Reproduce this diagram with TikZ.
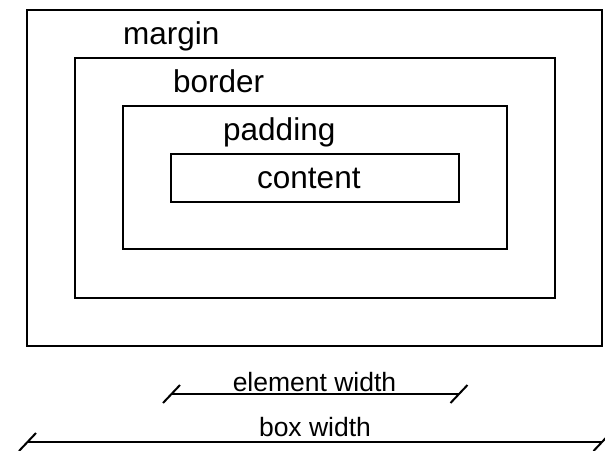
\documentclass[tikz,border=0pt]{standalone}
\usepackage{fontspec}
\setmainfont{Liberation Sans}
\usetikzlibrary{calc}
\tikzset{
  boxline/.style={draw=black, line width=1.5pt},
  dimline/.style={draw=black, line width=2pt},
  bigtext/.style={inner sep=0pt, anchor=base west, font=\fontsize{31.5}{36}\selectfont},
  smalltext/.style={inner sep=0pt, anchor=base, font=\fontsize{26.5}{30}\selectfont},
}
\begin{document}
\begin{tikzpicture}[x=1pt,y=-1pt]
\useasboundingbox (0,0) rectangle (605,450);
\fill[white] (0,0) rectangle (605,450);
% boxes
\coordinate (m1) at (27,10);   \coordinate (m2) at (602,346);
\coordinate (b1) at (75,58);   \coordinate (b2) at (555,298);
\coordinate (p1) at (123,106); \coordinate (p2) at (507,249);
\coordinate (c1) at (171,154); \coordinate (c2) at (459,202);
\draw[boxline] (m1) rectangle (m2);
\draw[boxline] (b1) rectangle (b2);
\draw[boxline] (p1) rectangle (p2);
\draw[boxline] (c1) rectangle (c2);
% labels
\node[bigtext] (lmargin) at (123,44) {margin};
\node[bigtext] (lborder) at (173,92) {border};
\node[bigtext] (lpadding) at (223,140) {padding};
\node[bigtext] (lcontent) at (257,188) {content};
% dimension lines
\coordinate (e1) at (171.5,394); \coordinate (e2) at (459,394);
\coordinate (w1) at (27.5,442);  \coordinate (w2) at (602,442);
\draw[dimline] (e1) -- (e2);
\draw[dimline] ($(e1)+(-8.5,9)$) -- ($(e1)+(8.5,-9)$);
\draw[dimline] ($(e2)+(-8.5,9)$) -- ($(e2)+(8.5,-9)$);
\draw[dimline] (w1) -- (w2);
\draw[dimline] ($(w1)+(-8.5,9)$) -- ($(w1)+(8.5,-9)$);
\draw[dimline] ($(w2)+(-8.5,9)$) -- ($(w2)+(8.5,-9)$);
\node[smalltext] (lelem) at (314.5,391) {element width};
\node[smalltext] (lbox) at (315,436) {box width};
\end{tikzpicture}
\end{document}
